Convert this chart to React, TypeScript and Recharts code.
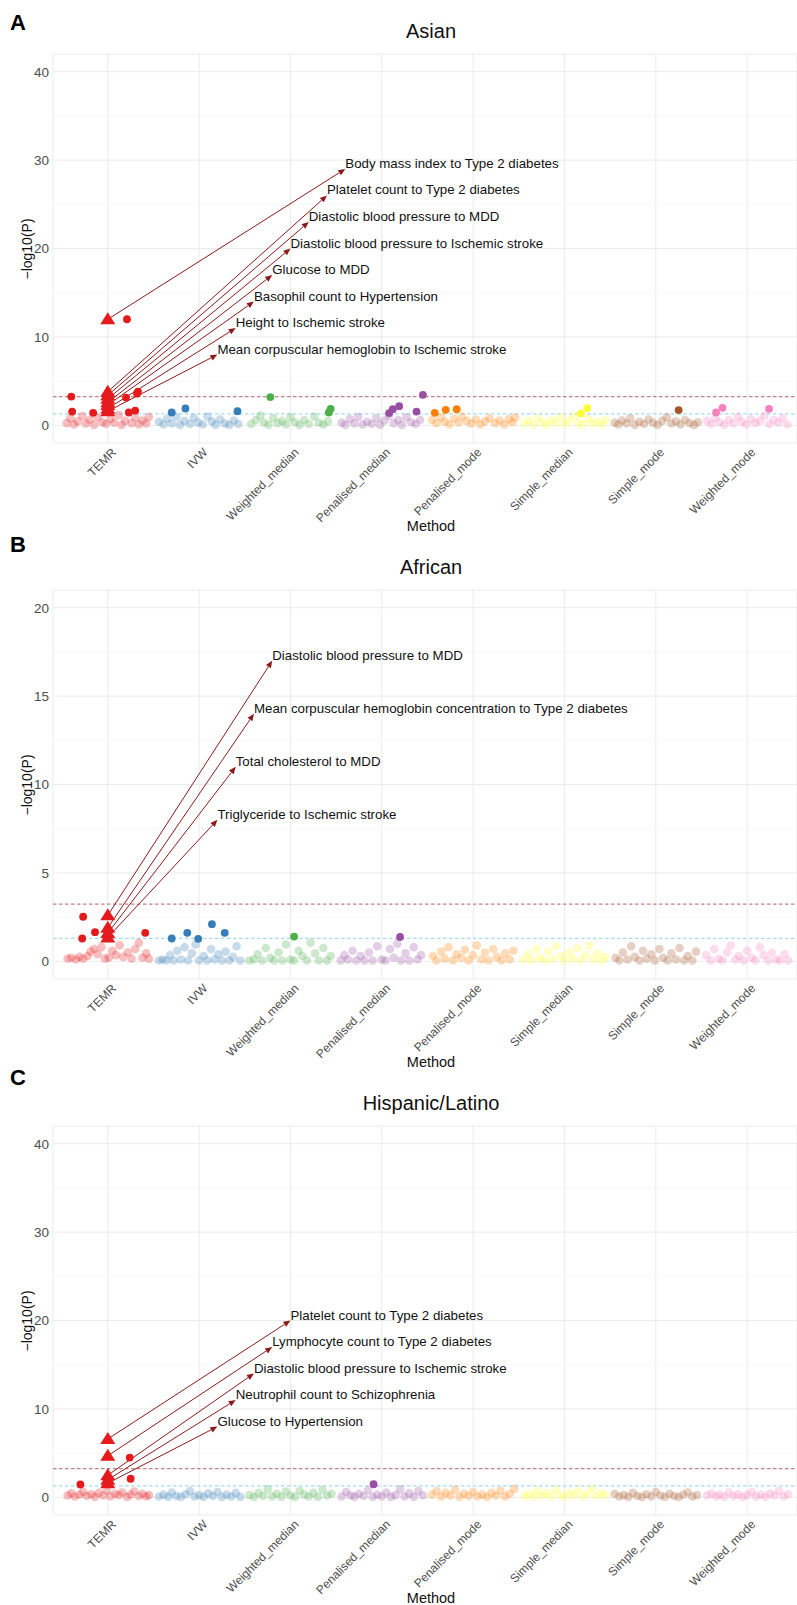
import React from "react"
import { ScatterChart, Scatter, XAxis, YAxis, CartesianGrid, ReferenceLine } from "recharts"

const FONT = '"Liberation Sans", Arial, Helvetica, sans-serif'

const METHODS = ["TEMR", "IVW", "Weighted_median", "Penalised_median", "Penalised_mode", "Simple_median", "Simple_mode", "Weighted_mode"]
const METHOD_COLORS = ["#E41A1C", "#377EB8", "#4DAF4A", "#984EA3", "#FF7F00", "#FFFF33", "#A65628", "#F781BF"]

const BONF_LINE = 3.24
const NOMINAL_LINE = 1.301

// ---- Asian ----
const asianFaded: number[][][] = [
  [[-0.45,0.25],[-0.41,0.8],[-0.37,0.1],[-0.33,0.45],[-0.28,1.05],[-0.24,0.2],[-0.2,0.6],[-0.15,0.05],[-0.11,0.9],[-0.06,0.35],[-0.02,0.15],[0.03,0.7],[0.07,0.3],[0.12,1.15],[0.15,0.05],[0.19,0.5],[0.26,0.25],[0.3,0.85],[0.34,0.1],[0.38,0.55],[0.42,0.2],[0.45,0.95]],
  [[-0.44,0.4],[-0.39,0.1],[-0.35,0.75],[-0.3,0.2],[-0.25,0.95],[-0.21,0.05],[-0.16,0.5],[-0.1,0.15],[-0.06,0.85],[-0.01,0.3],[0.04,0.1],[0.09,1.0],[0.14,0.45],[0.18,0.05],[0.23,0.65],[0.28,0.2],[0.33,0.05],[0.38,0.55],[0.43,0.15]],
  [[-0.43,0.15],[-0.38,0.6],[-0.33,1.1],[-0.29,0.3],[-0.24,0.05],[-0.19,0.8],[-0.14,0.25],[-0.09,0.5],[-0.05,0.1],[0.0,0.9],[0.05,0.35],[0.1,0.05],[0.15,0.6],[0.2,0.15],[0.26,1.0],[0.31,0.3],[0.36,0.1],[0.41,0.45]],
  [[-0.44,0.3],[-0.4,0.05],[-0.35,0.7],[-0.3,0.2],[-0.26,0.95],[-0.21,0.1],[-0.16,0.4],[-0.11,0.15],[-0.06,0.8],[-0.02,0.05],[0.03,0.55],[0.08,1.1],[0.13,0.25],[0.18,0.6],[0.22,0.05],[0.27,0.9],[0.32,0.35],[0.37,0.15],[0.42,0.6]],
  [[-0.45,0.6],[-0.4,0.25],[-0.35,0.9],[-0.31,0.4],[-0.26,0.1],[-0.21,0.75],[-0.16,0.3],[-0.12,1.0],[-0.07,0.5],[-0.02,0.2],[0.03,0.65],[0.08,0.1],[0.13,0.45],[0.18,0.8],[0.24,0.25],[0.29,0.55],[0.34,0.1],[0.39,0.7],[0.43,0.35],[0.46,0.9]],
  [[-0.44,0.2],[-0.39,0.55],[-0.34,0.1],[-0.29,0.8],[-0.24,0.35],[-0.2,0.05],[-0.15,0.6],[-0.1,0.25],[-0.05,0.9],[0.0,0.15],[0.05,0.5],[0.1,1.05],[0.15,0.3],[0.2,0.05],[0.26,0.7],[0.31,0.2],[0.36,0.45],[0.41,0.1],[0.45,0.6]],
  [[-0.45,0.3],[-0.41,0.1],[-0.37,0.55],[-0.32,0.2],[-0.28,0.8],[-0.23,0.05],[-0.18,0.4],[-0.13,0.15],[-0.08,0.65],[-0.03,0.3],[0.02,0.05],[0.07,0.5],[0.12,0.9],[0.17,0.2],[0.22,0.45],[0.27,0.1],[0.32,0.6],[0.37,0.25],[0.42,0.05],[0.46,0.35]],
  [[-0.44,0.5],[-0.39,0.15],[-0.35,0.8],[-0.3,0.35],[-0.25,0.05],[-0.2,0.6],[-0.15,0.2],[-0.1,0.95],[-0.06,0.4],[-0.01,0.1],[0.04,0.7],[0.09,0.25],[0.14,0.5],[0.19,1.1],[0.24,0.15],[0.29,0.6],[0.34,0.3],[0.39,0.8],[0.44,0.1]],
]
const asianHits: number[][][] = [
  [[-0.4,3.25],[-0.39,1.56],[-0.16,1.41],[0.21,12.0],[0.2,3.14],[0.32,3.6],[0.33,3.8],[0.23,1.45],[0.3,1.67]],
  [[-0.3,1.45],[-0.15,1.9],[0.42,1.6]],
  [[-0.22,3.2],[0.44,1.86],[0.42,1.45]],
  [[0.12,1.83],[0.19,2.16],[0.08,1.38],[0.38,1.56],[0.45,3.45]],
  [[-0.42,1.41],[-0.3,1.75],[-0.18,1.83]],
  [[0.18,1.33],[0.25,1.95]],
  [[0.25,1.72]],
  [[-0.34,1.45],[-0.27,1.98],[0.24,1.86]],
]
const asianTriY = [12.0, 3.8, 3.4, 3.0, 2.6, 2.3, 1.9, 1.6]
const asianLabels = [
  "Body mass index to Type 2 diabetes",
  "Platelet count to Type 2 diabetes",
  "Diastolic blood pressure to MDD",
  "Diastolic blood pressure to Ischemic stroke",
  "Glucose to MDD",
  "Basophil count to Hypertension",
  "Height to Ischemic stroke",
  "Mean corpuscular hemoglobin to Ischemic stroke",
]
const asianLabelX = [3.6, 3.4, 3.2, 3.0, 2.8, 2.6, 2.4, 2.2]
const asianLabelY = [29, 26, 23, 20, 17, 14, 11, 8]

// ---- African ----
const africanFaded: number[][][] = [
  [[-0.44,0.15],[-0.4,0.2],[-0.35,0.1],[-0.31,0.25],[-0.27,0.15],[-0.22,0.3],[-0.19,0.55],[-0.15,0.7],[-0.11,0.4],[-0.07,0.8],[-0.03,0.15],[0.01,0.2],[0.05,0.6],[0.09,0.35],[0.13,0.9],[0.17,0.25],[0.22,0.5],[0.26,0.15],[0.3,0.7],[0.34,1.05],[0.38,0.2],[0.42,0.45],[0.45,0.15]],
  [[-0.44,0.05],[-0.4,0.1],[-0.36,0.05],[-0.32,0.35],[-0.28,0.05],[-0.24,0.6],[-0.2,0.1],[-0.16,0.8],[-0.12,0.05],[-0.08,0.45],[-0.04,0.95],[0.0,0.05],[0.05,0.3],[0.09,0.05],[0.13,0.7],[0.17,0.1],[0.21,0.4],[0.25,0.05],[0.29,0.55],[0.33,0.05],[0.37,0.25],[0.41,0.85],[0.45,0.05]],
  [[-0.45,0.05],[-0.4,0.1],[-0.36,0.4],[-0.31,0.05],[-0.27,0.75],[-0.22,0.2],[-0.18,0.05],[-0.13,0.5],[-0.09,0.05],[-0.05,0.95],[0.0,0.1],[0.04,0.05],[0.09,0.6],[0.13,0.3],[0.18,0.05],[0.22,1.05],[0.27,0.45],[0.31,0.05],[0.36,0.75],[0.4,0.05],[0.44,0.3]],
  [[-0.45,0.05],[-0.41,0.35],[-0.37,0.1],[-0.32,0.6],[-0.28,0.05],[-0.23,0.3],[-0.19,0.05],[-0.14,0.5],[-0.1,0.05],[-0.05,0.85],[0.0,0.1],[0.04,0.05],[0.09,0.7],[0.13,0.2],[0.17,1.0],[0.21,0.05],[0.26,0.45],[0.3,0.05],[0.35,0.8],[0.39,0.1],[0.43,0.35]],
  [[-0.44,0.3],[-0.4,0.05],[-0.35,0.55],[-0.31,0.15],[-0.27,0.8],[-0.22,0.05],[-0.18,0.4],[-0.13,0.2],[-0.09,0.65],[-0.05,0.05],[0.0,0.35],[0.04,0.9],[0.09,0.1],[0.13,0.5],[0.17,0.05],[0.22,0.7],[0.26,0.25],[0.31,0.05],[0.35,0.45],[0.4,0.1],[0.44,0.6]],
  [[-0.45,0.1],[-0.4,0.4],[-0.36,0.05],[-0.31,0.7],[-0.27,0.2],[-0.22,0.05],[-0.18,0.55],[-0.13,0.1],[-0.09,0.85],[-0.04,0.3],[0.0,0.05],[0.05,0.5],[0.09,0.15],[0.14,0.75],[0.18,0.05],[0.23,0.35],[0.27,0.9],[0.32,0.1],[0.36,0.45],[0.41,0.05],[0.45,0.25]],
  [[-0.44,0.2],[-0.4,0.05],[-0.36,0.5],[-0.31,0.1],[-0.27,0.85],[-0.23,0.25],[-0.18,0.05],[-0.14,0.6],[-0.1,0.15],[-0.05,0.4],[-0.01,0.05],[0.04,0.7],[0.08,0.2],[0.13,0.05],[0.17,0.45],[0.22,0.1],[0.26,0.75],[0.31,0.05],[0.35,0.3],[0.4,0.05],[0.44,0.55]],
  [[-0.45,0.35],[-0.4,0.05],[-0.36,0.7],[-0.31,0.15],[-0.27,0.05],[-0.22,0.5],[-0.18,0.9],[-0.13,0.1],[-0.09,0.3],[-0.04,0.05],[0.0,0.6],[0.05,0.2],[0.09,0.05],[0.14,0.8],[0.18,0.35],[0.23,0.05],[0.27,0.5],[0.32,0.1],[0.36,0.05],[0.41,0.4],[0.45,0.05]],
]
const africanHits: number[][][] = [
  [[-0.27,2.52],[-0.14,1.65],[-0.28,1.29],[0.41,1.61]],
  [[-0.3,1.29],[-0.13,1.61],[-0.01,1.27],[0.14,2.1],[0.28,1.61]],
  [[0.04,1.4]],
  [[0.2,1.38]],
  [], [], [], [],
]
const africanTriY = [2.6, 1.9, 1.6, 1.35]
const africanLabels = [
  "Diastolic blood pressure to MDD",
  "Mean corpuscular hemoglobin concentration to Type 2 diabetes",
  "Total cholesterol to MDD",
  "Triglyceride to Ischemic stroke",
]
const africanLabelX = [2.8, 2.6, 2.4, 2.2]
const africanLabelY = [17, 14, 11, 8]

// ---- Hispanic/Latino ----
const hispanicFaded: number[][][] = [
  [[-0.44,0.2],[-0.4,0.45],[-0.36,0.1],[-0.31,0.3],[-0.27,0.6],[-0.23,0.15],[-0.18,0.35],[-0.14,0.05],[-0.1,0.5],[-0.05,0.2],[-0.01,0.75],[0.03,0.1],[0.08,0.4],[0.12,0.25],[0.16,0.55],[0.21,0.05],[0.25,0.3],[0.29,0.65],[0.34,0.15],[0.38,0.4],[0.42,0.1],[0.45,0.25]],
  [[-0.44,0.1],[-0.39,0.3],[-0.34,0.05],[-0.3,0.55],[-0.25,0.15],[-0.2,0.05],[-0.15,0.35],[-0.1,0.7],[-0.05,0.1],[0.0,0.25],[0.05,0.05],[0.1,0.45],[0.15,0.15],[0.2,0.6],[0.25,0.05],[0.3,0.3],[0.35,0.1],[0.4,0.5],[0.45,0.05]],
  [[-0.45,0.25],[-0.4,0.05],[-0.35,0.5],[-0.3,0.15],[-0.25,0.9],[-0.2,0.1],[-0.15,0.4],[-0.1,0.05],[-0.05,0.65],[0.0,0.2],[0.05,0.05],[0.1,0.75],[0.15,0.3],[0.2,0.1],[0.25,0.5],[0.3,0.05],[0.35,0.85],[0.4,0.2],[0.45,0.4]],
  [[-0.44,0.1],[-0.39,0.6],[-0.34,0.2],[-0.3,0.05],[-0.25,0.4],[-0.2,0.15],[-0.15,0.8],[-0.1,0.05],[-0.05,0.3],[0.0,0.1],[0.05,0.55],[0.1,0.05],[0.15,0.25],[0.2,0.9],[0.25,0.1],[0.3,0.45],[0.35,0.05],[0.4,0.7],[0.45,0.2]],
  [[-0.45,0.3],[-0.4,0.7],[-0.35,0.1],[-0.3,0.5],[-0.25,0.2],[-0.2,0.85],[-0.15,0.05],[-0.1,0.4],[-0.05,0.15],[0.0,0.6],[0.05,0.1],[0.1,0.3],[0.15,0.05],[0.2,0.5],[0.25,0.2],[0.3,0.75],[0.35,0.1],[0.4,0.4],[0.45,0.95]],
  [[-0.44,0.15],[-0.39,0.4],[-0.34,0.05],[-0.3,0.7],[-0.25,0.2],[-0.2,0.45],[-0.15,0.1],[-0.1,0.85],[-0.05,0.3],[0.0,0.05],[0.05,0.55],[0.1,0.2],[0.15,0.75],[0.2,0.1],[0.25,0.4],[0.3,0.95],[0.35,0.15],[0.4,0.5],[0.45,0.25]],
  [[-0.45,0.4],[-0.4,0.1],[-0.35,0.25],[-0.3,0.05],[-0.25,0.5],[-0.2,0.15],[-0.15,0.05],[-0.1,0.35],[-0.05,0.1],[0.0,0.6],[0.05,0.2],[0.1,0.05],[0.15,0.4],[0.2,0.15],[0.25,0.05],[0.3,0.3],[0.35,0.55],[0.4,0.1],[0.45,0.25]],
  [[-0.44,0.2],[-0.39,0.45],[-0.34,0.1],[-0.3,0.3],[-0.25,0.05],[-0.2,0.55],[-0.15,0.15],[-0.1,0.35],[-0.05,0.05],[0.0,0.25],[0.05,0.6],[0.1,0.1],[0.15,0.3],[0.2,0.05],[0.25,0.45],[0.3,0.2],[0.35,0.7],[0.4,0.1],[0.45,0.35]],
]
const hispanicHits: number[][][] = [
  [[-0.3,1.45],[0.24,4.5],[0.25,2.1]],
  [], [],
  [[-0.09,1.48]],
  [], [], [], [],
]
const hispanicTriY = [6.6, 4.7, 2.5, 2.0, 1.6]
const hispanicLabels = [
  "Platelet count to Type 2 diabetes",
  "Lymphocyte count to Type 2 diabetes",
  "Diastolic blood pressure to Ischemic stroke",
  "Neutrophil count to Schizophrenia",
  "Glucose to Hypertension",
]
const hispanicLabelX = [3.0, 2.8, 2.6, 2.4, 2.2]
const hispanicLabelY = [20, 17, 14, 11, 8]

const PLOT_TOP = 54
const PLOT_H = 389
const ARROW = "#8B1A1A"

function MethodTick(props: any) {
  const { x, y, payload } = props
  const ax = x + 3
  const ay = y + 4
  return (
    <text x={ax} y={ay} dy="0.72em" transform={`rotate(-45 ${ax} ${ay})`} textAnchor="end"
      fontSize={12} fontFamily={FONT} fill="#4D4D4D">
      {METHODS[payload.value - 1]}
    </text>
  )
}

function ValueTick(props: any) {
  const { y, payload } = props
  return (
    <text x={49} y={y} dy="0.36em" textAnchor="end" fontSize={13.5} fontFamily={FONT} fill="#4D4D4D">
      {payload.value}
    </text>
  )
}

function ArrowLabel(props: any) {
  const { x1, y1, x2, y2, text } = props
  if (x1 == null) return null
  const ang = Math.atan2(y2 - y1, x2 - x1)
  const L = 7, W = 3
  const bx = x2 - L * Math.cos(ang), by = y2 - L * Math.sin(ang)
  const pts = `${x2},${y2} ${bx + W * Math.sin(ang)},${by - W * Math.cos(ang)} ${bx - W * Math.sin(ang)},${by + W * Math.cos(ang)}`
  return (
    <g>
      <line x1={x1} y1={y1} x2={bx} y2={by} stroke={ARROW} strokeWidth={1} />
      <polygon points={pts} fill={ARROW} />
      <text x={x2} y={y2 - 1} fontSize={13.3} fontFamily={FONT} fill="#111">{text}</text>
    </g>
  )
}

function Panel(props: {
  title: string; height: number; yDomain: number[]; yTicks: number[]; yMinor: number[]
  faded: number[][][]; hits: number[][][]; triY: number[]; labels: string[]; labelX: number[]; labelY: number[]
}) {
  const { title, height, yDomain, yTicks, yMinor, faded, hits, triY, labels, labelX, labelY } = props
  const hitData = hits.flatMap((list, i) => list.map(([dx, y]) => ({ x: i + 1 + dx, y, c: METHOD_COLORS[i] })))
  const triData = triY.map((y) => ({ x: 1, y }))
  return (
    <div style={{ position: "relative", width: 797, height }}>
      <ScatterChart width={797} height={height} margin={{ top: PLOT_TOP, right: 0, bottom: 0, left: 0 }}>
        <CartesianGrid stroke="#F3F3F3" strokeWidth={0.7} vertical={false} horizontalValues={yMinor} />
        <CartesianGrid stroke="#EBEBEB" strokeWidth={1} />
        <XAxis type="number" dataKey="x" domain={[0.4, 8.546]} ticks={[1, 2, 3, 4, 5, 6, 7, 8]} interval={0}
          allowDataOverflow axisLine={false} tickLine={false} tickSize={0} tickMargin={0}
          height={height - PLOT_TOP - PLOT_H} tick={<MethodTick />} />
        <YAxis type="number" dataKey="y" domain={yDomain} ticks={yTicks} interval={0} allowDataOverflow
          axisLine={false} tickLine={false} tickSize={0} tickMargin={4} width={53} tick={<ValueTick />} />
        {faded.map((list, i) => (
          <Scatter key={METHODS[i]} data={list.map(([dx, y]) => ({ x: i + 1 + dx, y }))} isAnimationActive={false}
            shape={(p: any) => <circle cx={p.cx} cy={p.cy} r={4.3} fill={METHOD_COLORS[i]} fillOpacity={0.28} />} />
        ))}
        <Scatter data={hitData} isAnimationActive={false}
          shape={(p: any) => <circle cx={p.cx} cy={p.cy} r={3.9} fill={p.payload.c} />} />
        <Scatter data={triData} isAnimationActive={false}
          shape={(p: any) => <polygon points={`${p.cx},${p.cy - 7} ${p.cx - 7.5},${p.cy + 5} ${p.cx + 7.5},${p.cy + 5}`} fill="#E41A1C" />} />
        <ReferenceLine y={BONF_LINE} stroke="#8B0000" strokeOpacity={0.5} strokeWidth={1.3} strokeDasharray="3.5 2.5" />
        <ReferenceLine y={NOMINAL_LINE} stroke="#87CEEB" strokeOpacity={0.75} strokeWidth={1.3} strokeDasharray="3.5 2.5" />
        {triY.map((y, k) => (
          <ReferenceLine key={labels[k]} ifOverflow="visible"
            segment={[{ x: 1, y }, { x: labelX[k], y: labelY[k] }]}
            shape={(p: any) => <ArrowLabel {...p} text={labels[k]} />} />
        ))}
      </ScatterChart>
      <div style={{ position: "absolute", left: 0, width: 862, top: PLOT_TOP - 35, textAlign: "center", fontSize: 20, lineHeight: "24px", color: "#111", fontFamily: FONT }}>{title}</div>
      <div style={{ position: "absolute", left: 27 - 60, width: 120, top: PLOT_TOP + PLOT_H / 2 - 9, textAlign: "center", fontSize: 14, lineHeight: "18px", color: "#111", fontFamily: FONT, transform: "rotate(-90deg)" }}>−log10(P)</div>
      <div style={{ position: "absolute", left: 0, width: 862, top: PLOT_TOP + PLOT_H + 74, textAlign: "center", fontSize: 14.5, lineHeight: "18px", color: "#111", fontFamily: FONT }}>Method</div>
    </div>
  )
}

const letterStyle: React.CSSProperties = { position: "absolute", left: 10, fontSize: 22, fontWeight: "bold", fontFamily: FONT, lineHeight: "24px", color: "#000" }

export default function App() {
  return (
    <div style={{ position: "relative", width: 797, height: 1605, background: "#fff", overflow: "hidden" }}>
      <style>{"body{margin:0}"}</style>
      <Panel title="Asian" height={536} yDomain={[-2, 42]} yTicks={[0, 10, 20, 30, 40]} yMinor={[5, 15, 25, 35]}
        faded={asianFaded} hits={asianHits} triY={asianTriY} labels={asianLabels} labelX={asianLabelX} labelY={asianLabelY} />
      <Panel title="African" height={536} yDomain={[-1, 21]} yTicks={[0, 5, 10, 15, 20]} yMinor={[2.5, 7.5, 12.5, 17.5]}
        faded={africanFaded} hits={africanHits} triY={africanTriY} labels={africanLabels} labelX={africanLabelX} labelY={africanLabelY} />
      <Panel title="Hispanic/Latino" height={533} yDomain={[-2, 42]} yTicks={[0, 10, 20, 30, 40]} yMinor={[5, 15, 25, 35]}
        faded={hispanicFaded} hits={hispanicHits} triY={hispanicTriY} labels={hispanicLabels} labelX={hispanicLabelX} labelY={hispanicLabelY} />
      <div style={{ ...letterStyle, top: 11 }}>A</div>
      <div style={{ ...letterStyle, top: 533 }}>B</div>
      <div style={{ ...letterStyle, top: 1066 }}>C</div>
    </div>
  )
}
